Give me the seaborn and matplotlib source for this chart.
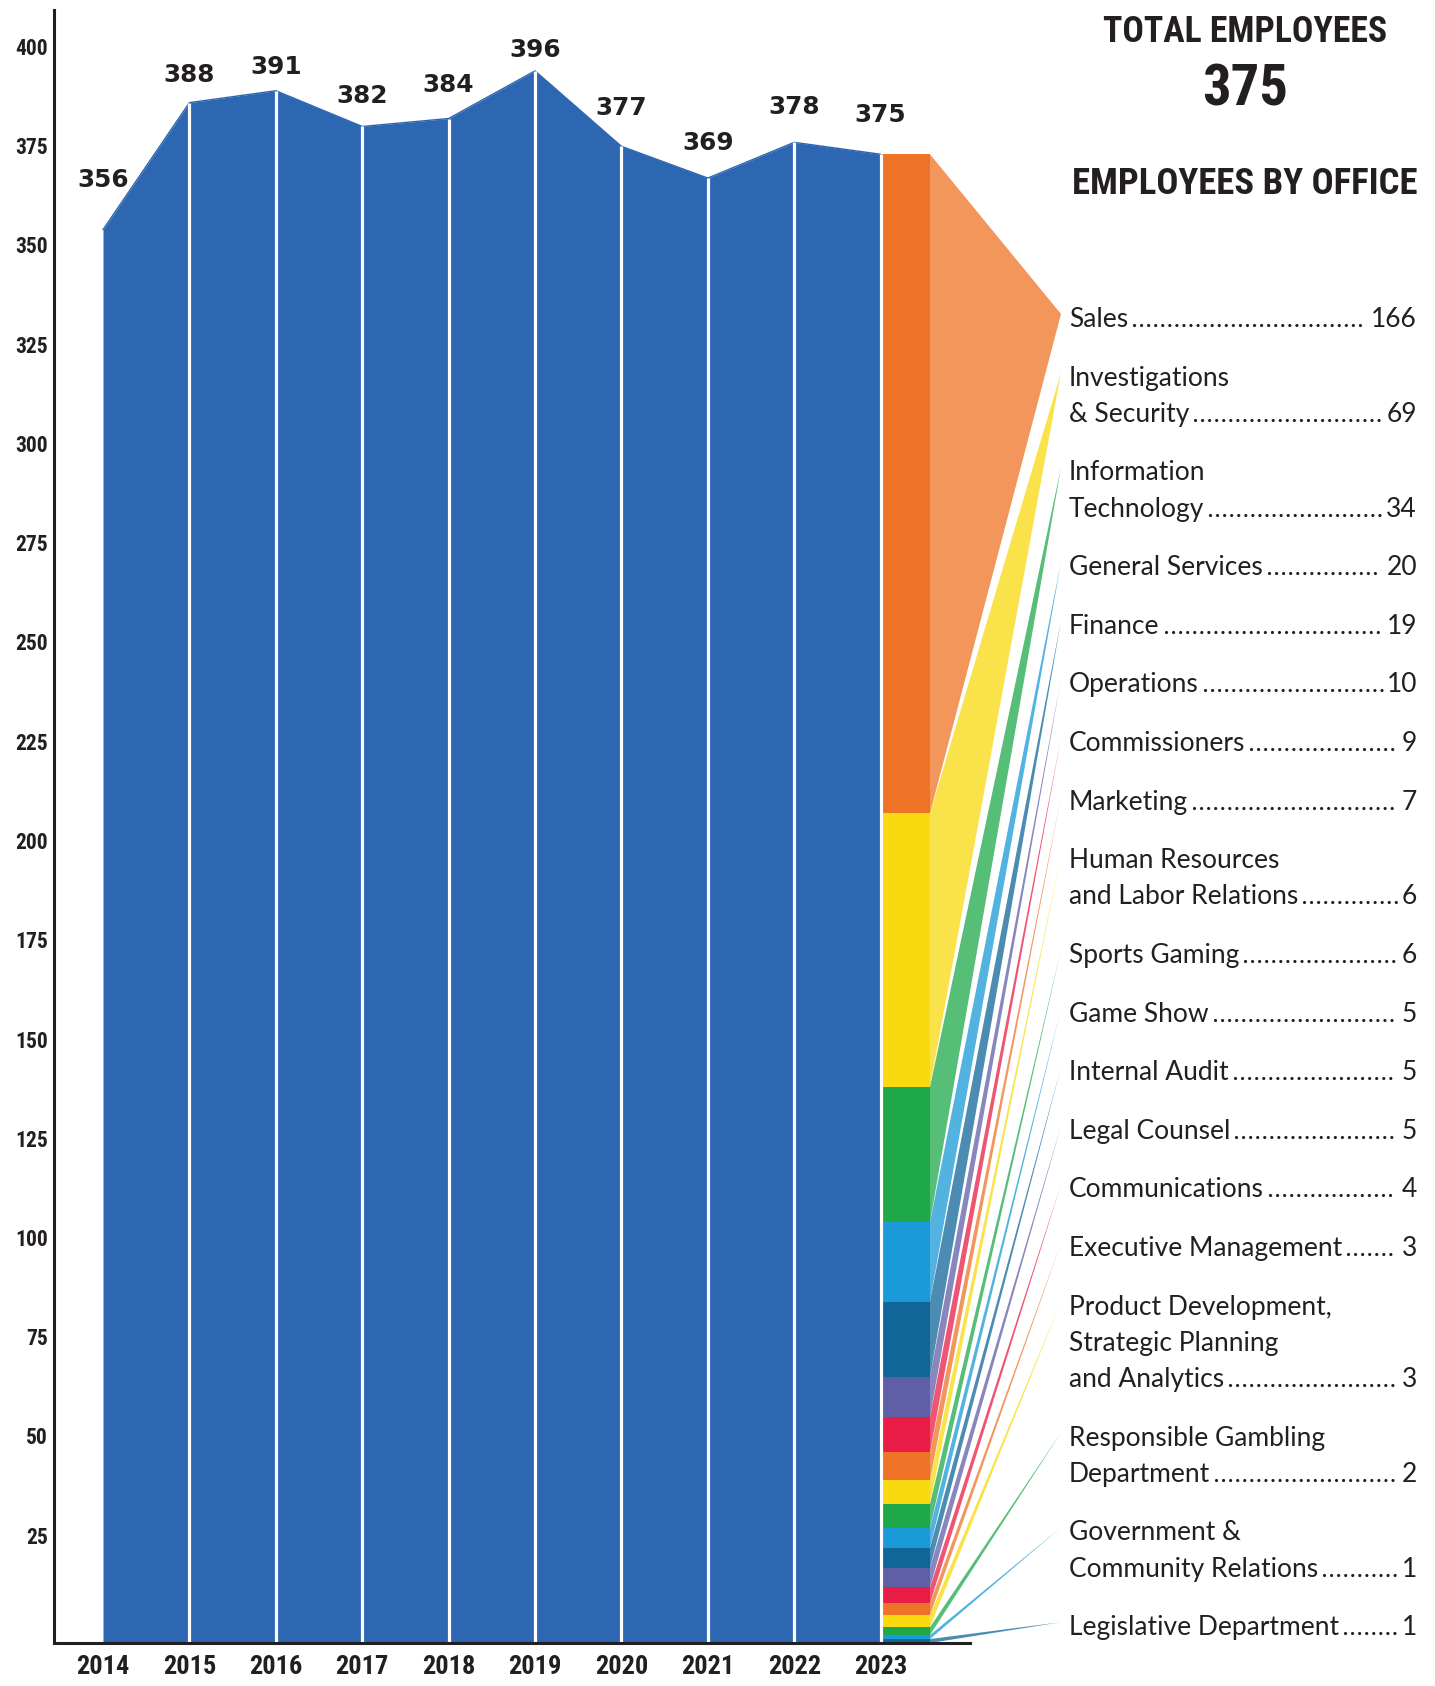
import matplotlib
matplotlib.use("Agg")
import matplotlib.pyplot as plt
from matplotlib import font_manager
import numpy as np
import seaborn as sns

# yearly head count
years = [2014, 2015, 2016, 2017, 2018, 2019, 2020, 2021, 2022, 2023]
employees = [356, 388, 391, 382, 384, 396, 377, 369, 378, 375]

# 2023 split by office (top of the stack first)
offices = ["Sales", "Investigations\n& Security", "Information\nTechnology", "General Services",
           "Finance", "Operations", "Commissioners", "Marketing",
           "Human Resources\nand Labor Relations", "Sports Gaming", "Game Show", "Internal Audit",
           "Legal Counsel", "Communications", "Executive Management",
           "Product Development,\nStrategic Planning\nand Analytics",
           "Responsible Gambling\nDepartment", "Government &\nCommunity Relations",
           "Legislative Department"]
office_counts = [166, 69, 34, 20, 19, 10, 9, 7, 6, 6, 5, 5, 5, 4, 3, 3, 2, 1, 1]

yticks = list(range(25, 401, 25))

BLUE = "#2d67b1"
INK = "#231f20"
palette = ["#ee7326", "#f9d90f", "#1fa84a", "#1a9ad6", "#116699", "#5f5fa8", "#e81c44"]

sns.set_style("white")

# pick a condensed face for the headings and tick labels
names = {f.name for f in font_manager.fontManager.ttflist}
COND = next((n for n in ["Roboto Condensed", "Barlow Condensed", "Oswald"] if n in names), None)
cond_kw = dict(fontfamily=COND) if COND else dict(fontfamily="DejaVu Sans", fontstretch="condensed")
LABEL_FONT = "Lato" if "Lato" in names else "DejaVu Sans"

W, H = 1435, 1686
fig = plt.figure(figsize=(W / 100, H / 100), dpi=100)

# pixel layout of the original artwork
base_px, ppu = 1643, 3.97      # baseline row, pixels per employee
x0_px, ppy = 103, 86.4         # x of 2014, pixels per year
ax = fig.add_axes([0, (H - base_px) / H, 1, base_px / H])
ax.set_xlim(2014 - x0_px / ppy, 2014 + (W - x0_px) / ppy)
ax.set_ylim(0, base_px / ppu)


def px2x(px):
    return 2014 + (px - x0_px) / ppy


def px2y(py):
    return (base_px - py) / ppu


# blue area with white year separators
ax.fill_between(years, employees, color=BLUE, lw=0, zorder=1)
sns.lineplot(x=years, y=employees, color=BLUE, lw=1, ax=ax, zorder=1)
ax.vlines(years[1:], 0, employees[1:], color="white", lw=2.3, zorder=2)

# value labels above the area
label_dy = [43, 21, 17, 23, 27, 14, 31, 28, 28, 32]
for x, v, dy in zip(years, employees, label_dy):
    ax.text(x, v + dy / ppu, str(v), ha="center", va="baseline", fontsize=17.8,
            fontweight="bold", family="DejaVu Sans", color=INK)

# stacked 2023 bar
counts = np.array(office_counts)
tops = counts.sum() - np.concatenate([[0], np.cumsum(counts)[:-1]])
bottoms = tops - counts
colors = [palette[i % len(palette)] for i in range(len(offices))]
bar_right = px2x(930)
ax.bar(2023, counts, bottom=bottoms, width=bar_right - 2023, align="edge",
       color=colors, lw=0, zorder=1)

# office labels, fans and leaders
tip_x = px2x(1061)
label_x, value_x = px2x(1069), px2x(1417)
center = 317
pairs = []
for name, n, top, bot, col in zip(offices, office_counts, tops, bottoms, colors):
    lines = name.split("\n")
    tip_y = px2y(center - 3)
    ax.fill([bar_right, tip_x, bar_right], [top, tip_y, bot], color=col, alpha=0.75,
            lw=0, zorder=1)
    for j, line in enumerate(lines):
        t = ax.text(label_x, px2y(center + 10 + 36.2 * j), line, ha="left", va="baseline",
                    fontsize=19, family=LABEL_FONT, color=INK)
    v = ax.text(value_x, px2y(center + 10 + 36.2 * (len(lines) - 1)), str(n), ha="right",
                va="baseline", fontsize=19, family=LABEL_FONT, color=INK)
    pairs.append((t, v))
    center += 58.6 + 36.2 * (len(lines) - 1)

# axes styling
for s in ["top", "right"]:
    ax.spines[s].set_visible(False)
ax.spines["left"].set_position(("data", px2x(54)))
ax.spines["left"].set_bounds(0, px2y(10))
ax.spines["bottom"].set_bounds(px2x(54), px2x(970))
for s in ["left", "bottom"]:
    ax.spines[s].set_linewidth(2.2)
    ax.spines[s].set_color(INK)
    ax.spines[s].set_zorder(3)

ax.set_yticks(yticks, [str(t) for t in yticks], fontweight="bold", fontsize=15.5, color=INK,
              va="baseline", **cond_kw)
ax.set_xticks(years, [str(y) for y in years], fontweight="bold", fontsize=19, color=INK,
              **cond_kw)
ax.tick_params(axis="y", length=0, pad=4.5)
ax.tick_params(axis="x", length=0, pad=9)
ax.set_xlabel("")
ax.set_ylabel("")

# headings on the right (baseline row, target width in px)
heads = [("TOTAL EMPLOYEES", 42, 285), (str(employees[-1]), 105, 86),
         ("EMPLOYEES BY OFFICE", 194, 345)]
head_texts = []
for s, base, width in heads:
    t = fig.text(1245 / W, 1 - base / H, s, ha="center", va="baseline", fontsize=28,
                 fontweight="bold", color=INK, **cond_kw)
    head_texts.append((t, width))

fig.canvas.draw()
r = fig.canvas.get_renderer()
for t, width in head_texts:
    w = t.get_window_extent(r).width
    t.set_fontsize(28 * width / w)

# dot leaders between office name and count
inv = ax.transData.inverted()
for t, v in pairs:
    b1 = t.get_window_extent(r)
    b2 = v.get_window_extent(r)
    yb = ax.transData.transform(t.get_position())[1] + 2
    (xa, ya), (xb, _) = inv.transform([(b1.x1 + 6, yb), (b2.x0 - 5, yb)])
    ax.plot([xa, xb], [ya, ya], color=INK, lw=2.3, linestyle=(0, (0.01, 2.2)),
            dash_capstyle="round", zorder=3)

fig.savefig("out.png", dpi=100)
